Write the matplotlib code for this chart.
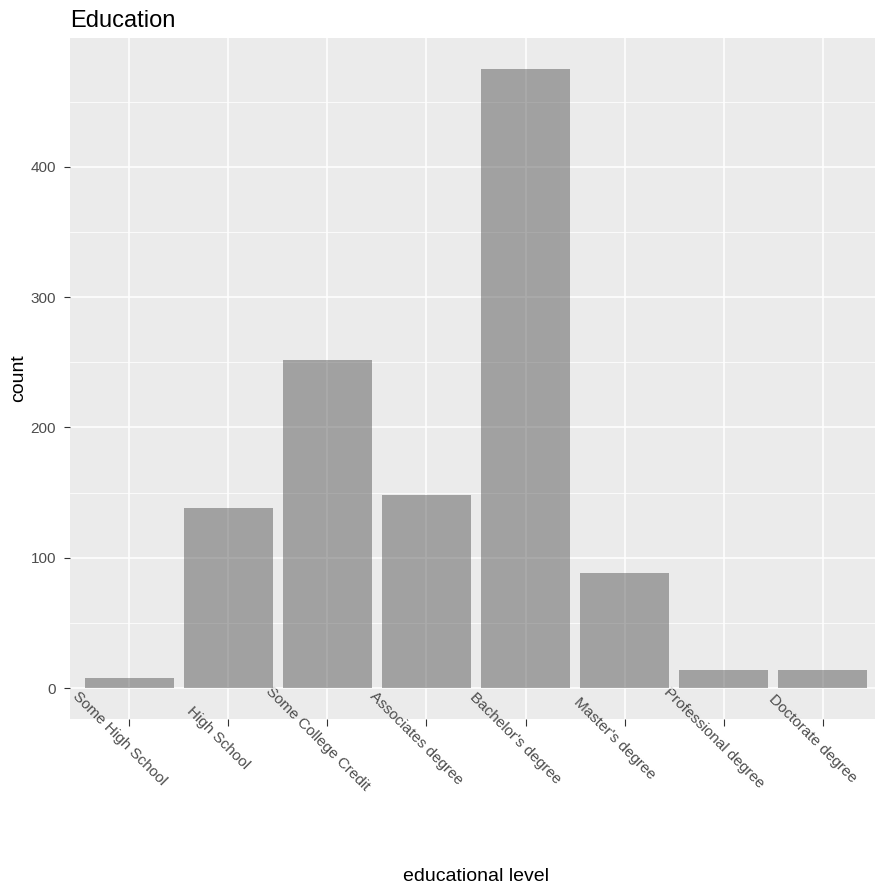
import matplotlib
matplotlib.use("Agg")
import matplotlib.pyplot as plt
import matplotlib.transforms as mtransforms
from matplotlib.ticker import MultipleLocator

# data
levels = ["Some High School", "High School", "Some College Credit",
          "Associates degree", "Bachelor's degree", "Master's degree",
          "Professional degree", "Doctorate degree"]
counts = [8, 138, 252, 148, 475, 88, 14, 14]
y_ticks = [0, 100, 200, 300, 400]

plt.rcParams['font.family'] = ['Liberation Sans', 'DejaVu Sans']

W, H = 875, 890
fig = plt.figure(figsize=(W / 100, H / 100), dpi=100)

# panel in pixel coords: left 70, right 882 (runs off the image), top 38, bottom 719
left, right, top, bottom = 70, 882, 38, 719
ax = fig.add_axes([left / W, 1 - bottom / H, (right - left) / W, (bottom - top) / H])
ax.set_facecolor('#ebebeb')
for s in ax.spines.values():
    s.set_visible(False)

x = list(range(len(levels)))
ax.bar(x, counts, width=0.9, color='#595959', alpha=0.5, zorder=3)

ymax = max(counts)
ax.set_ylim(-0.05 * ymax, 1.05 * ymax)
ax.set_xlim(-0.6, len(levels) - 1 + 0.6)

ax.set_yticks(y_ticks)
ax.yaxis.set_minor_locator(MultipleLocator(50))
ax.set_xticks(x)
ax.set_xticklabels(levels)

ax.grid(which='major', color='white', linewidth=1.1, zorder=1)
ax.grid(which='minor', axis='y', color='white', linewidth=0.55, zorder=1)
ax.set_axisbelow(True)

ax.tick_params(axis='y', which='major', length=4, width=0.8, color='#333333',
               labelsize=11, labelcolor='#4d4d4d', pad=6)
ax.tick_params(axis='y', which='minor', length=0)
ax.tick_params(axis='x', length=5, width=0.8, color='#333333',
               labelsize=11, labelcolor='#4d4d4d', pad=9)

# rotated labels, centred a little left of each tick
shift = mtransforms.ScaledTranslation(-10 / 100, 0, fig.dpi_scale_trans)
for lab in ax.get_xticklabels():
    lab.set_rotation(-45)
    lab.set_rotation_mode('anchor')
    lab.set_ha('center')
    lab.set_va('center')
    lab.set_transform(lab.get_transform() + shift)

fig.text(left / W, 1 - 27 / H, "Education", fontsize=17, ha='left', va='baseline')
fig.text(19 / W, 1 - ((top + bottom) / 2) / H, "count", fontsize=14,
         rotation=90, ha='center', va='center')
fig.text(((left + right) / 2) / W, 1 - 881 / H, "educational level", fontsize=14,
         ha='center', va='baseline')

fig.savefig("out.png", dpi=100)
